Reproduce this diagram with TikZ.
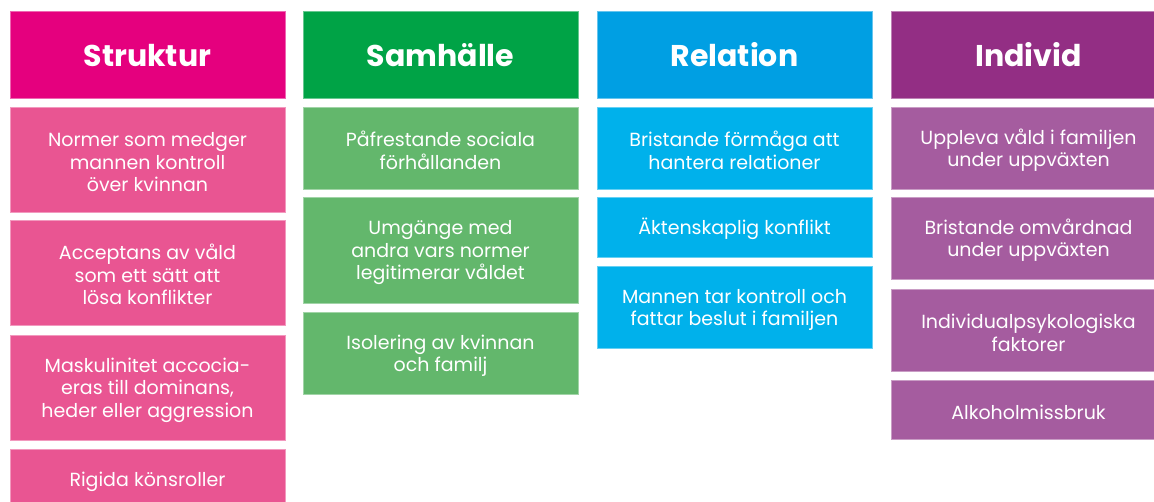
\documentclass[tikz,border=0pt]{standalone}
\usepackage{fontspec}
\setmainfont{Poppins}
\definecolor{pinkH}{HTML}{E5007E}
\definecolor{pinkB}{HTML}{E95592}
\definecolor{greenH}{HTML}{00A346}
\definecolor{greenB}{HTML}{63B76C}
\definecolor{blueH}{HTML}{009FE3}
\definecolor{blueB}{HTML}{00B1EB}
\definecolor{purpH}{HTML}{932E84}
\definecolor{purpB}{HTML}{A55C9F}
\newcommand{\hd}[1]{\rule[-3pt]{0pt}{30pt}#1}
\newcommand{\fl}{\rule{0pt}{20pt}}
\begin{document}
\begin{tikzpicture}[x=1pt,y=-1pt,
  cell/.style={rectangle, inner sep=0pt, minimum width=275pt, align=center, text=white, line width=0.8pt},
  head/.style={cell, minimum height=87pt, font=\fontsize{30}{34}\selectfont\bfseries},
  item/.style={cell, font=\fontsize{19}{22.5}\selectfont},
  pinkhead/.style={head, fill=pinkH, draw=pinkH!60!white},
  pinkitem/.style={item, fill=pinkB, draw=pinkB!60!white},
  greenhead/.style={head, fill=greenH, draw=greenH!60!white},
  greenitem/.style={item, fill=greenB, draw=greenB!60!white},
  bluehead/.style={head, fill=blueH, draw=blueH!60!white},
  blueitem/.style={item, fill=blueB, draw=blueB!60!white},
  purphead/.style={head, fill=purpH, draw=purpH!60!white},
  purpitem/.style={item, fill=purpB, draw=purpB!60!white}]
\useasboundingbox (0,0) rectangle (1154,501);
\clip (0,0) rectangle (1154,501);
\fill[white] (0,0) rectangle (1154,501);
% Struktur
\node[pinkhead] (s0) at (147.5,54.5) {\hd{Struktur}};
\node[pinkitem, minimum height=105pt] (s1) at (147.5,159.5) {\fl Normer som medger\\mannen kontroll\\över kvinnan};
\node[pinkitem, minimum height=105pt] (s2) at (147.5,272.5) {\fl Acceptans av våld\\som ett sätt att\\lösa konflikter};
\node[pinkitem, minimum height=105pt] (s3) at (147.5,387.5) {\fl Maskulinitet accocia-\\eras till dominans,\\heder eller aggression};
\node[pinkitem, minimum height=60pt] (s4) at (147.5,479) {\fl Rigida könsroller};
% Samhälle
\node[greenhead] (h0) at (440.5,54.5) {\hd{Samhälle}};
\node[greenitem, minimum height=82pt] (h1) at (440.5,148) {\fl Påfrestande sociala\\förhållanden};
\node[greenitem, minimum height=106pt] (h2) at (440.5,250) {\fl Umgänge med\\andra vars normer\\legitimerar våldet};
\node[greenitem, minimum height=82pt] (h3) at (440.5,353) {\fl Isolering av kvinnan\\och familj};
% Relation
\node[bluehead] (r0) at (734.5,54.5) {\hd{Relation}};
\node[blueitem, minimum height=82pt] (r1) at (734.5,148) {\fl Bristande förmåga att\\hantera relationer};
\node[blueitem, minimum height=60pt] (r2) at (734.5,227) {\fl Äktenskaplig konflikt};
\node[blueitem, minimum height=82pt] (r3) at (734.5,307) {\fl Mannen tar kontroll och\\fattar beslut i familjen};
% Individ
\node[purphead] (i0) at (1028.5,54.5) {\hd{Individ}};
\node[purpitem, minimum height=82pt] (i1) at (1028.5,148) {\fl Uppleva våld i familjen\\under uppväxten};
\node[purpitem, minimum height=82pt] (i2) at (1028.5,238) {\fl Bristande omvårdnad\\under uppväxten};
\node[purpitem, minimum height=82pt] (i3) at (1028.5,330) {\fl Individualpsykologiska\\faktorer};
\node[purpitem, minimum height=59pt] (i4) at (1028.5,409.5) {\fl Alkoholmissbruk};
\end{tikzpicture}
\end{document}
